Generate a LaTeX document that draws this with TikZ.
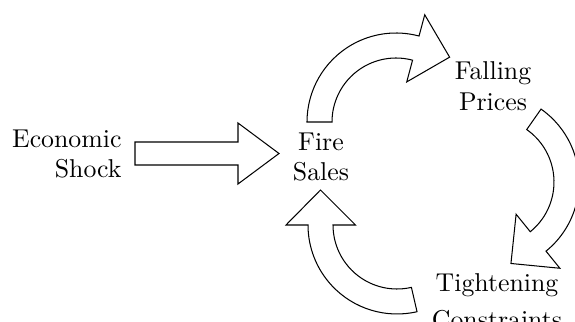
\documentclass[tikz,border=0pt]{standalone}
\usetikzlibrary{calc}
\tikzset{
  blockarrow/.style={draw=black, line width=0.4pt, fill=white, line join=miter},
  txt/.style={inner sep=0pt, align=center}
}
\newcommand\loopArrow[3]{%
  \draw[blockarrow] ($(#1)+(#2:64)$) -- ($(#1)+(#2:89)$)
    arc[start angle=#2, end angle=#3, radius=89]
    -- ($(#1)+(#3:111)$) -- ($(#1)+(#3:76.5)+(#3-90:35)$) -- ($(#1)+(#3:41.5)$)
    -- ($(#1)+(#3:64)$) arc[start angle=#3, end angle=#2, radius=64] -- cycle;}
\begin{document}
\begin{tikzpicture}[x=0.3876pt, y=0.3876pt]
  \useasboundingbox (0,0) rectangle (575,-322);
  \node[txt, align=right, anchor=east] (shock) at (122,-154) {Economic\\Shock};
  \node[txt] (fire) at (321,-157) {Fire\\Sales};
  \node[txt] (fall) at (493,-86) {Falling\\Prices};
  \node[txt, anchor=north] (tight) at (497,-273) {Tightening\\[2.5pt]Constraints};
  \coordinate (c1) at (396,-122);
  \coordinate (c2) at (490,-182);
  \coordinate (c3) at (397,-225);
  \draw[blockarrow] (135,-142) -- (238,-142) -- (238,-123) -- (279,-153.5)
    -- (238,-184) -- (238,-165) -- (135,-165) -- cycle;
  \loopArrow{c1}{180}{75}
  \loopArrow{c2}{55}{-51}
  \loopArrow{c3}{-77}{-180}
\end{tikzpicture}
\end{document}
